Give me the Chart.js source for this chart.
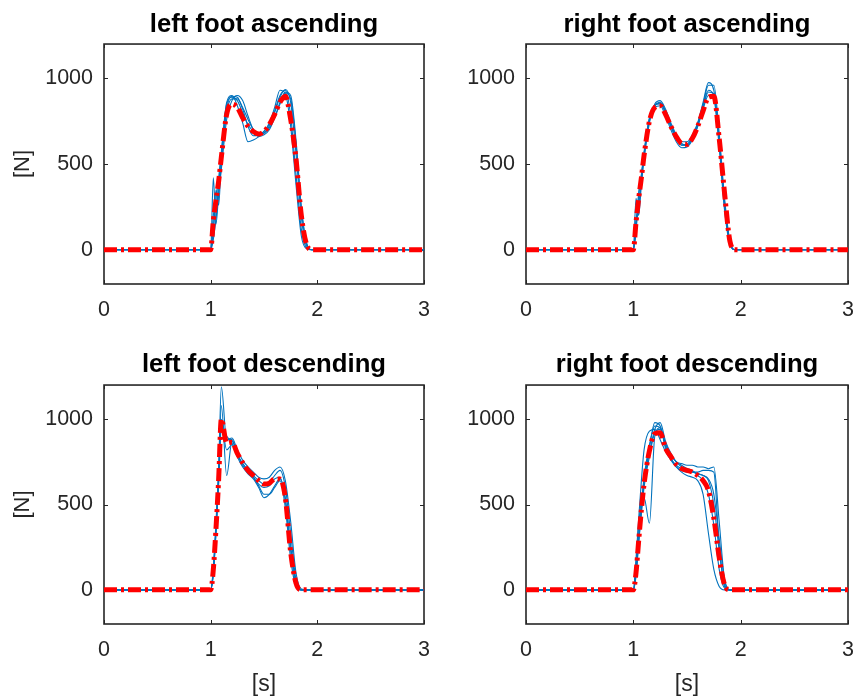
<!DOCTYPE html>
<html>
<head>
<meta charset="utf-8">
<title>Ground reaction force</title>
<script src="https://cdn.jsdelivr.net/npm/chart.js@4.4.1/dist/chart.umd.min.js"></script>
<style>
  html, body { margin: 0; padding: 0; background: #ffffff; }
  #wrap { position: relative; width: 854px; height: 698px; overflow: hidden; }
  #wrap canvas { position: absolute; left: 0; top: 0; }
</style>
</head>
<body>
<div id="wrap">
  <canvas id="leftAsc" width="854" height="698"></canvas>
  <canvas id="rightAsc" width="854" height="698"></canvas>
  <canvas id="leftDesc" width="854" height="698"></canvas>
  <canvas id="rightDesc" width="854" height="698"></canvas>
</div>
<script>
// Sample times [s] shared by every trace
const timeGrid = [0, 1.0, 1.025, 1.05, 1.075, 1.1, 1.15, 1.2, 1.25, 1.3, 1.35, 1.4, 1.45,
                  1.5, 1.55, 1.6, 1.65, 1.7, 1.75, 1.8, 1.85, 1.9, 1.95, 2.0, 3.0];

const xTicks = [0, 1, 2, 3];
const yTicks = [0, 500, 1000];

// Left foot, ascending: single trials [N] and their mean
const leftAscTrials = [
  [0, 0, 120, 300, 420, 570, 850, 890, 870, 800, 730, 690, 670, 680, 720, 800, 890, 935, 860, 560, 190, 20, 0, 0, 0],
  [0, 0, 60, 180, 330, 500, 820, 895, 890, 820, 720, 665, 670, 690, 730, 810, 900, 930, 780, 440, 120, 10, 0, 0, 0],
  [0, 0, 420, 150, 330, 470, 760, 870, 900, 870, 780, 700, 660, 670, 700, 770, 860, 920, 900, 640, 250, 40, 0, 0, 0],
  [0, 0, 200, 260, 380, 560, 860, 900, 840, 740, 630, 640, 660, 690, 740, 830, 930, 910, 720, 380, 80, 5, 0, 0, 0],
  [0, 0, 100, 350, 260, 520, 800, 880, 880, 830, 760, 700, 670, 680, 710, 770, 850, 915, 880, 620, 240, 30, 0, 0, 0]
];
const leftAscMean = [0, 0, 170, 290, 400, 540, 790, 850, 830, 770, 720, 690, 675, 690, 730, 790, 860, 895, 760, 530, 200, 30, 0, 0, 0];

// Right foot, ascending
const rightAscTrials = [
  [0, 0, 150, 250, 420, 560, 760, 840, 860, 810, 730, 660, 620, 610, 650, 730, 840, 930, 900, 620, 250, 40, 0, 0, 0],
  [0, 0, 300, 200, 380, 530, 740, 850, 870, 820, 740, 670, 630, 630, 670, 740, 850, 960, 960, 680, 300, 50, 0, 0, 0],
  [0, 0, 100, 320, 430, 570, 770, 830, 840, 780, 700, 630, 595, 600, 640, 720, 820, 900, 880, 600, 230, 30, 0, 0, 0],
  [0, 0, 180, 250, 400, 540, 750, 840, 855, 800, 720, 650, 610, 615, 660, 740, 860, 975, 930, 650, 280, 45, 0, 0, 0],
  [0, 0, 130, 330, 440, 560, 760, 845, 850, 800, 720, 650, 610, 610, 650, 720, 830, 920, 910, 640, 270, 40, 0, 0, 0]
];
const rightAscMean = [0, 0, 160, 300, 420, 550, 750, 830, 840, 790, 720, 660, 620, 615, 650, 720, 810, 890, 895, 650, 330, 50, 0, 0, 0];

// Left foot, descending
const leftDescTrials = [
  [0, 0, 120, 400, 720, 1190, 880, 880, 790, 740, 700, 670, 640, 620, 630, 670, 700, 600, 330, 60, 0, 0, 0, 0, 0],
  [0, 0, 100, 350, 650, 1080, 670, 870, 800, 730, 690, 660, 620, 600, 610, 650, 660, 520, 230, 30, 0, 0, 0, 0, 0],
  [0, 0, 130, 380, 680, 980, 820, 850, 790, 740, 700, 660, 610, 560, 560, 600, 640, 480, 180, 20, 0, 0, 0, 0, 0],
  [0, 0, 110, 360, 660, 1000, 880, 890, 820, 760, 720, 690, 660, 650, 660, 700, 720, 640, 400, 100, 5, 0, 0, 0, 0],
  [0, 0, 90, 330, 620, 940, 900, 860, 780, 720, 680, 650, 600, 540, 560, 610, 650, 540, 260, 40, 0, 0, 0, 0, 0]
];
const leftDescMean = [0, 0, 120, 360, 650, 1000, 860, 865, 800, 745, 700, 670, 640, 620, 625, 650, 650, 540, 220, 40, 0, 0, 0, 0, 0];

// Right foot, descending
const rightDescTrials = [
  [0, 0, 80, 280, 460, 620, 830, 980, 960, 850, 790, 750, 720, 700, 690, 680, 670, 650, 560, 300, 60, 0, 0, 0, 0],
  [0, 0, 150, 380, 520, 540, 390, 900, 950, 830, 770, 730, 710, 700, 695, 680, 670, 640, 500, 230, 30, 0, 0, 0, 0],
  [0, 0, 180, 420, 640, 820, 930, 940, 880, 810, 760, 720, 700, 690, 690, 690, 700, 700, 690, 260, 20, 0, 0, 0, 0],
  [0, 0, 100, 300, 480, 640, 800, 940, 980, 870, 800, 750, 730, 710, 700, 670, 640, 560, 380, 120, 10, 0, 0, 0, 0],
  [0, 0, 90, 280, 450, 600, 780, 920, 940, 840, 770, 720, 690, 670, 660, 640, 560, 330, 120, 20, 0, 0, 0, 0, 0],
  [0, 0, 120, 320, 500, 660, 850, 960, 950, 860, 790, 750, 740, 730, 730, 720, 720, 710, 720, 400, 60, 0, 0, 0, 0]
];
const rightDescMean = [0, 0, 100, 290, 470, 620, 815, 915, 920, 830, 780, 735, 710, 700, 690, 670, 640, 580, 420, 190, 30, 0, 0, 0, 0];

const FONT = "'Liberation Sans', Arial, Helvetica, sans-serif";
const AXIS_COLOR = '#262626';
const TRIAL_COLOR = '#0072BD';
const MEAN_COLOR = '#FF0000';

Chart.defaults.font.family = FONT;
Chart.defaults.color = AXIS_COLOR;

// Box around the plot area with inward tick marks on all four sides
const framePlugin = {
  id: 'frame',
  beforeDatasetsDraw(chart) {
    const { ctx, chartArea: a, scales } = chart;
    const x = scales.x, y = scales.y;
    const L = 4;
    ctx.save();
    ctx.strokeStyle = AXIS_COLOR;
    ctx.lineWidth = 1;
    ctx.beginPath();
    xTicks.forEach(v => {
      const px = Math.round(x.getPixelForValue(v)) + 0.5;
      ctx.moveTo(px, a.bottom); ctx.lineTo(px, a.bottom - L);
      ctx.moveTo(px, a.top); ctx.lineTo(px, a.top + L);
    });
    yTicks.forEach(v => {
      const py = Math.round(y.getPixelForValue(v)) + 0.5;
      ctx.moveTo(a.left, py); ctx.lineTo(a.left + L, py);
      ctx.moveTo(a.right, py); ctx.lineTo(a.right - L, py);
    });
    ctx.stroke();
    ctx.lineWidth = 1.6;
    ctx.strokeRect(a.left, a.top, a.right - a.left, a.bottom - a.top);
    ctx.restore();
  }
};

function points(values) {
  return timeGrid.map((t, i) => ({ x: t, y: values[i] }));
}

function makePanel(id, titleText, trials, mean, opts) {
  const datasets = [{
    data: points(mean),
    borderColor: MEAN_COLOR,
    borderWidth: 5,
    borderDash: [13, 4, 3, 4],
    borderCapStyle: 'butt',
    order: 0
  }];
  trials.forEach(tr => datasets.push({
    data: points(tr),
    borderColor: TRIAL_COLOR,
    borderWidth: 1.1,
    order: 1
  }));

  new Chart(document.getElementById(id), {
    type: 'line',
    data: { datasets },
    plugins: [framePlugin],
    options: {
      responsive: false,
      animation: false,
      devicePixelRatio: 1,
      events: [],
      layout: { padding: opts.padding },
      elements: {
        point: { radius: 0 },
        line: { cubicInterpolationMode: 'monotone', fill: false }
      },
      plugins: {
        legend: { display: false },
        tooltip: { enabled: false },
        title: {
          display: true,
          text: titleText,
          fullSize: false,
          color: '#000000',
          font: { size: 25.7, weight: 'bold', family: FONT },
          padding: { top: opts.titleTop, bottom: opts.titleBottom }
        }
      },
      scales: {
        x: {
          type: 'linear',
          min: 0, max: 3,
          grid: { display: false, drawTicks: false },
          border: { display: false },
          ticks: { font: { size: 21.5 }, color: AXIS_COLOR, padding: 13, maxRotation: 0,
                   callback: v => String(v) },
          afterBuildTicks: s => { s.ticks = xTicks.map(v => ({ value: v })); },
          afterFit: s => { s.height = opts.xHeight; s.paddingLeft = 0; s.paddingRight = 0; },
          title: {
            display: opts.xTitle,
            text: '[s]',
            color: AXIS_COLOR,
            font: { size: 23 },
            padding: { top: 0, bottom: 0 }
          }
        },
        y: {
          type: 'linear',
          min: -200, max: 1200,
          grid: { display: false, drawTicks: false },
          border: { display: false },
          ticks: { font: { size: 21.5 }, color: AXIS_COLOR, padding: 11,
                   callback: v => String(v) },
          afterBuildTicks: s => { s.ticks = yTicks.map(v => ({ value: v })); },
          afterFit: s => { s.width = opts.yWidth; s.paddingTop = 0; s.paddingBottom = 0; },
          title: {
            display: opts.yTitle,
            text: '[N]',
            color: AXIS_COLOR,
            font: { size: 22 },
            padding: { top: 10, bottom: 0 }
          }
        }
      }
    }
  });
}

makePanel('leftAsc', 'left foot ascending', leftAscTrials, leftAscMean, {
  padding: { left: 0, right: 430, top: 0, bottom: 358 },
  titleTop: 9, titleBottom: 4.2, xHeight: 56, yWidth: 104, xTitle: false, yTitle: true
});
makePanel('rightAsc', 'right foot ascending', rightAscTrials, rightAscMean, {
  padding: { left: 427, right: 6, top: 0, bottom: 358 },
  titleTop: 9, titleBottom: 4.2, xHeight: 56, yWidth: 99, xTitle: false, yTitle: false
});
makePanel('leftDesc', 'left foot descending', leftDescTrials, leftDescMean, {
  padding: { left: 0, right: 430, top: 340, bottom: 0 },
  titleTop: 9.5, titleBottom: 4.7, xHeight: 74, yWidth: 104, xTitle: true, yTitle: true
});
makePanel('rightDesc', 'right foot descending', rightDescTrials, rightDescMean, {
  padding: { left: 427, right: 6, top: 340, bottom: 0 },
  titleTop: 9.5, titleBottom: 4.7, xHeight: 74, yWidth: 99, xTitle: true, yTitle: false
});
</script>
</body>
</html>
